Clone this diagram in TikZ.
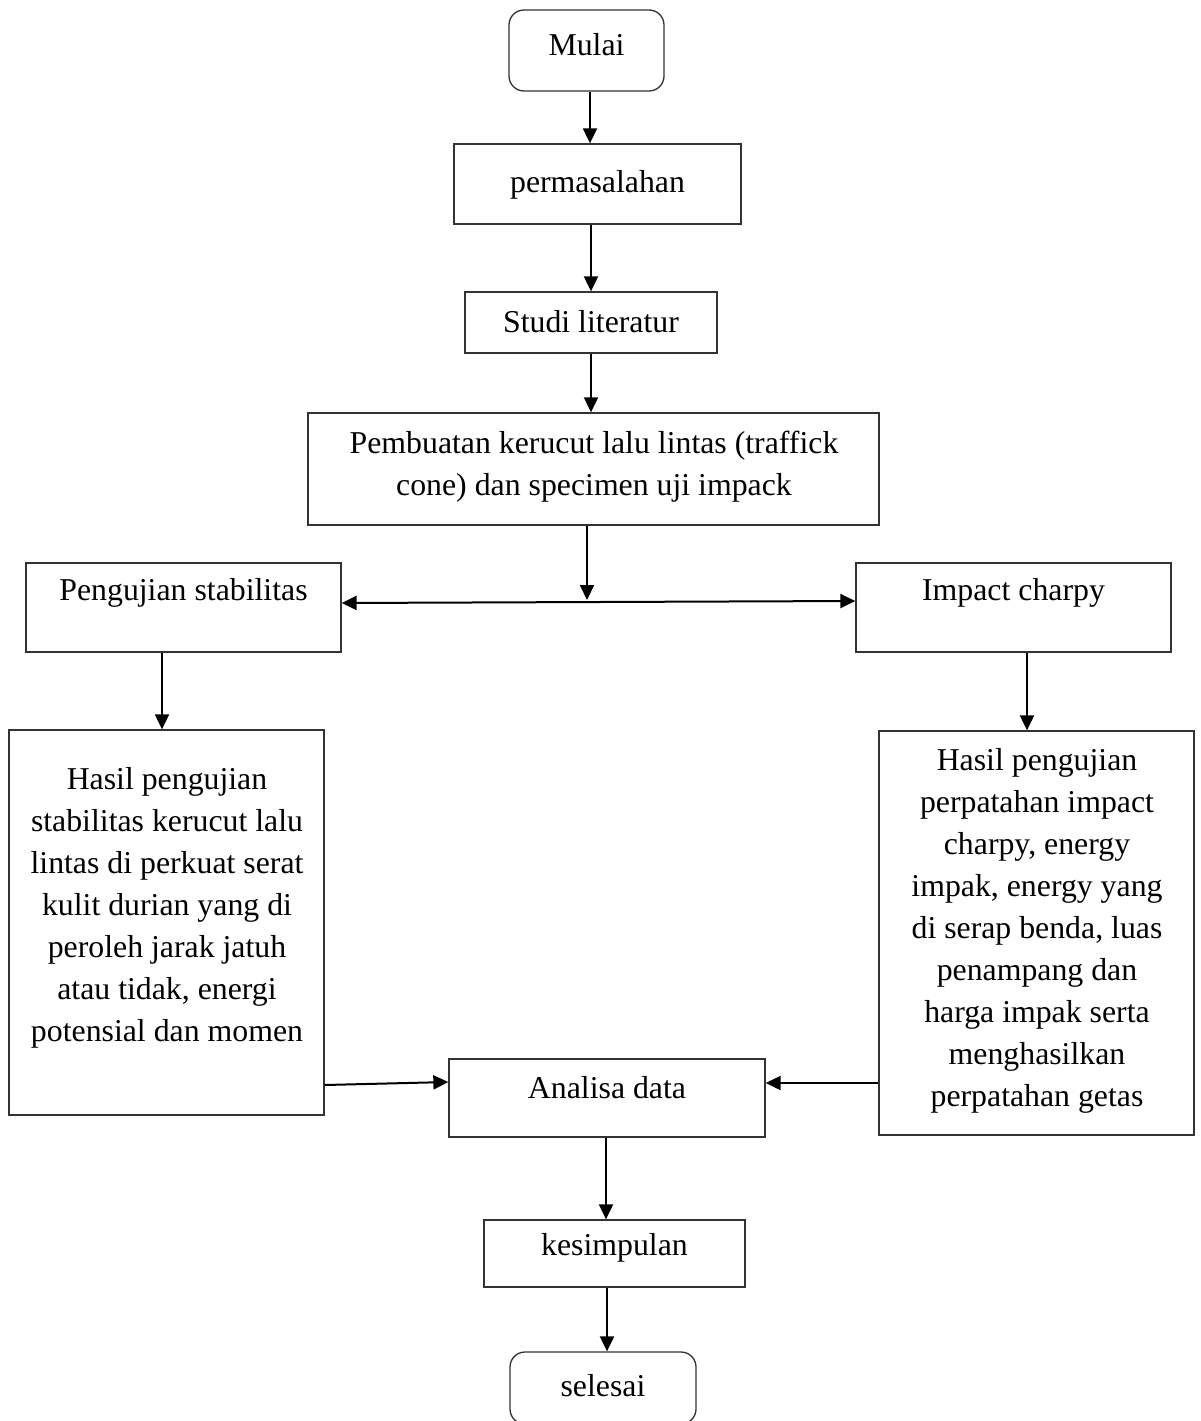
\documentclass[tikz,border=0pt]{standalone}
\usepackage{fontspec}
\setmainfont{Liberation Serif}
\usetikzlibrary{arrows.meta,calc}
\begin{document}
\begin{tikzpicture}[x=1pt,y=-1pt,
  box/.style={draw=black!80,line width=1.3pt,inner sep=0pt,fill=none},
  rbox/.style={box,rounded corners=15pt},
  txt/.style={inner sep=0pt,align=center,font=\fontsize{31.8pt}{42pt}\selectfont},
  arr/.style={line width=2pt,-{Triangle[length=15pt,width=14pt]}},
  arrb/.style={line width=2pt,{Triangle[length=15pt,width=14pt]}-{Triangle[length=15pt,width=14pt]}}]
\useasboundingbox (0,0) rectangle (1201,1421);
% boxes
\node[rbox,minimum width=155pt,minimum height=81pt] (mulai) at (586.5,50.5) {};
\node[txt] (mulait) at (586.5,45) {Mulai};
\node[box,minimum width=287pt,minimum height=80pt] (perm) at (597.5,184) {};
\node[txt] (permt) at (597.5,185) {permasalahan};
\node[box,minimum width=252pt,minimum height=61pt] (studi) at (591,322.5) {};
\node[txt] (studit) at (591,322) {Studi literatur};
\node[box,minimum width=571pt,minimum height=112pt] (pemb) at (593.5,469) {};
\node[txt] (pembt) at (594,467) {Pembuatan kerucut lalu lintas (traffick\\cone) dan specimen uji impack};
\node[box,minimum width=315pt,minimum height=89pt] (peng) at (183.5,607.5) {};
\node[txt] (pengt) at (183.5,593) {Pengujian stabilitas};
\node[box,minimum width=315pt,minimum height=89pt] (impact) at (1013.5,607.5) {};
\node[txt] (impactt) at (1013.5,593) {Impact charpy};
\node[box,minimum width=315pt,minimum height=385pt] (hasilL) at (166.5,922.5) {};
\node[txt] (hasilLt) at (167,907.5) {Hasil pengujian\\stabilitas kerucut lalu\\lintas di perkuat serat\\kulit durian yang di\\peroleh jarak jatuh\\atau tidak, energi\\potensial dan momen};
\node[box,minimum width=315pt,minimum height=404pt] (hasilR) at (1036.5,933) {};
\node[txt] (hasilRt) at (1037,931) {Hasil pengujian\\perpatahan impact\\charpy, energy\\impak, energy yang\\di serap benda, luas\\penampang dan\\harga impak serta\\menghasilkan\\perpatahan getas};
\node[box,minimum width=316pt,minimum height=78pt] (analisa) at (607,1098) {};
\node[txt] (analisat) at (607,1088) {Analisa data};
\node[box,minimum width=261pt,minimum height=67pt] (kesim) at (614.5,1253.5) {};
\node[txt] (kesimt) at (614.5,1248) {kesimpulan};
\node[rbox,minimum width=186pt,minimum height=72pt] (selesai) at (603,1388) {};
\node[txt] (selesait) at (603,1386) {selesai};
% connectors
\draw[arr] ([xshift=3.5pt]mulai.south) -- ([xshift=3.5pt]mulai.south |- perm.north);
\draw[arr] ([xshift=-6.5pt]perm.south) -- ([xshift=-6.5pt]perm.south |- studi.north);
\draw[arr] (studi.south) -- (studi.south |- pemb.north);
\coordinate (split) at (587,600);
\draw[arr] ([xshift=-6.5pt]pemb.south) -- (split);
\draw[arrb] ([yshift=4.5pt]peng.east) -- ([yshift=6.5pt]impact.west);
\draw[arr] ([xshift=-21.5pt]peng.south) -- ([xshift=-21.5pt]peng.south |- hasilL.north);
\draw[arr] ([xshift=13.5pt]impact.south) -- ([xshift=13.5pt]impact.south |- hasilR.north);
\draw[arr] ([yshift=-162.5pt]hasilL.east) -- ([yshift=16pt]analisa.west);
\draw[arr] ([yshift=-150pt]hasilR.west) -- ([yshift=15pt]analisa.east);
\draw[arr] ([xshift=-1pt]analisa.south) -- ([xshift=-1pt]analisa.south |- kesim.north);
\draw[arr] ([xshift=-7.5pt]kesim.south) -- ([xshift=-7.5pt]kesim.south |- selesai.north);
\end{tikzpicture}
\end{document}
